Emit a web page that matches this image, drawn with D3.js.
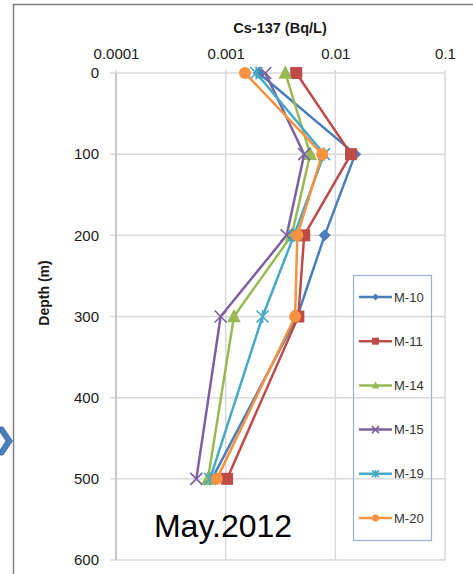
<!DOCTYPE html>
<html><head><meta charset="utf-8">
<script src="https://cdn.jsdelivr.net/npm/d3@7"></script>
<style>body{margin:0;background:#fff}svg{display:block}</style>
</head><body>
<script>
const depths = [0, 100, 200, 300, 500];
const seriesNames = ["M-10", "M-11", "M-14", "M-15", "M-19", "M-20"];
const m10 = [0.0020, 0.0152, 0.0080, 0.0045, 0.00075];
const m11 = [0.0044, 0.0139, 0.0052, 0.0046, 0.00103];
const m14 = [0.0035, 0.0059, 0.0040, 0.00119, 0.00069];
const m15 = [0.0023, 0.0052, 0.0036, 0.00090, 0.00054];
const m19 = [0.0019, 0.0079, 0.0042, 0.00217, 0.00072];
const m20 = [0.0015, 0.0076, 0.0045, 0.00430, 0.00083];
const xTicks = [0.0001, 0.001, 0.01, 0.1];
const xTickLabels = ["0.0001", "0.001", "0.01", "0.1"];
const yTicks = [0, 100, 200, 300, 400, 500, 600];
const colors = ["#4A7EBB", "#BE4B48", "#98B954", "#7D60A0", "#46AAC5", "#F69240"];
const markers = ["diamond", "square", "triangle", "x", "star", "circle"];
const allValues = [m10, m11, m14, m15, m19, m20];

const W = 473, H = 574;
const svg = d3.select("body").append("svg").attr("width", W).attr("height", H);
const font = "'Liberation Sans', Arial, sans-serif";

const x = d3.scaleLog().domain([0.0001, 0.1]).range([116, 445]);
const y = d3.scaleLinear().domain([0, 600]).range([73, 560]);

// outer frame (top & left)
svg.append("line").attr("x1", 13.5).attr("x2", 13.5).attr("y1", 4).attr("y2", H).attr("stroke", "#7f7f7f").attr("stroke-width", 1.5);
svg.append("line").attr("x1", 13).attr("x2", W).attr("y1", 4.5).attr("y2", 4.5).attr("stroke", "#7f7f7f").attr("stroke-width", 1.5);

// blue chevron
svg.append("path").attr("d", "M0,427 L3,427 L12.5,441 L3,455 L0,455 L0,450 L6,441 L0,432 Z")
  .attr("fill", "#4A7EBB").attr("stroke", "#3A6AA5").attr("stroke-width", 0.8);

// gridlines
const g = svg.append("g");
g.selectAll(".vg").data(xTicks).enter().append("line")
  .attr("x1", d => x(d)).attr("x2", d => x(d)).attr("y1", y(0) - 3).attr("y2", y(600))
  .attr("stroke", "#d9d9d9").attr("stroke-width", 1.5);
g.selectAll(".hg").data(yTicks).enter().append("line")
  .attr("x1", x(0.0001) - 6).attr("x2", x(0.1)).attr("y1", d => y(d)).attr("y2", d => y(d))
  .attr("stroke", "#d9d9d9").attr("stroke-width", 1.5);
// y axis line
g.append("line").attr("x1", x(0.0001)).attr("x2", x(0.0001)).attr("y1", y(0)).attr("y2", y(600))
  .attr("stroke", "#bfbfbf").attr("stroke-width", 1.5);

// axes with d3
const xAxis = d3.axisTop(x).tickValues(xTicks).tickFormat((d, i) => xTickLabels[i]).tickSize(0).tickPadding(14);
const xa = svg.append("g").attr("transform", `translate(0,${y(0)})`).call(xAxis);
xa.select(".domain").remove();
xa.selectAll("text").attr("font-family", font).attr("font-size", 15).attr("fill", "#1a1a1a");

const yAxis = d3.axisLeft(y).tickValues(yTicks).tickFormat(d3.format("d")).tickSize(0).tickPadding(17);
const ya = svg.append("g").attr("transform", `translate(${x(0.0001)},0)`).call(yAxis);
ya.select(".domain").remove();
ya.selectAll("text").attr("font-family", font).attr("font-size", 15).attr("fill", "#1a1a1a");

// titles
svg.append("text").attr("x", 280).attr("y", 33).attr("text-anchor", "middle")
  .attr("font-family", font).attr("font-weight", "bold").attr("font-size", 14.5).attr("fill", "#1a1a1a")
  .text("Cs-137 (Bq/L)");
svg.append("text").attr("transform", "translate(49,293) rotate(-90)").attr("text-anchor", "middle")
  .attr("font-family", font).attr("font-weight", "bold").attr("font-size", 14).attr("fill", "#1a1a1a")
  .text("Depth (m)");

// marker drawing
function drawMarker(sel, type, color, s) {
  if (type === "diamond") {
    sel.append("path").attr("d", `M0,${-s}L${s},0L0,${s}L${-s},0Z`).attr("fill", color);
  } else if (type === "square") {
    sel.append("rect").attr("x", -s).attr("y", -s).attr("width", 2 * s).attr("height", 2 * s).attr("fill", color);
  } else if (type === "triangle") {
    sel.append("path").attr("d", `M0,${-s * 1.2}L${s * 1.05},${s * 0.9}L${-s * 1.05},${s * 0.9}Z`).attr("fill", color);
  } else if (type === "x") {
    sel.append("path").attr("d", `M${-s},${-s}L${s},${s}M${-s},${s}L${s},${-s}`).attr("stroke", color).attr("stroke-width", 1.6).attr("fill", "none");
  } else if (type === "star") {
    sel.append("path").attr("d", `M${-s},${-s}L${s},${s}M${-s},${s}L${s},${-s}M0,${-s * 1.1}L0,${s * 1.1}`).attr("stroke", color).attr("stroke-width", 1.6).attr("fill", "none");
  } else if (type === "circle") {
    sel.append("circle").attr("r", s).attr("fill", color);
  }
}

const line = d3.line().x(d => x(d.v)).y(d => y(d.depth));
const markerSize = [6, 6, 6.5, 6, 6, 6];

seriesNames.forEach((name, i) => {
  const pts = depths.map((dep, j) => ({ depth: dep, v: allValues[i][j] }));
  const sg = svg.append("g");
  sg.append("path").datum(pts).attr("d", line).attr("fill", "none")
    .attr("stroke", colors[i]).attr("stroke-width", 2.5).attr("stroke-linejoin", "round");
  sg.selectAll(".m").data(pts).enter().append("g")
    .attr("transform", d => `translate(${x(d.v)},${y(d.depth)})`)
    .each(function () { drawMarker(d3.select(this), markers[i], colors[i], markerSize[i]); });
});

// legend
const lg = svg.append("g");
lg.append("rect").attr("x", 353.5).attr("y", 275.5).attr("width", 78).attr("height", 265)
  .attr("fill", "none").attr("stroke", "#95B3D7").attr("stroke-width", 1.2);
seriesNames.forEach((name, i) => {
  const yy = 297 + i * 44.2;
  const e = lg.append("g").attr("transform", `translate(0,${yy})`);
  e.append("line").attr("x1", 359).attr("x2", 392).attr("y1", 0).attr("y2", 0)
    .attr("stroke", colors[i]).attr("stroke-width", 2.5);
  const mk = e.append("g").attr("transform", "translate(375.5,0)");
  drawMarker(mk, markers[i], colors[i], 3.5);
  e.append("text").attr("x", 394).attr("y", 0).attr("dy", "0.35em")
    .attr("font-family", font).attr("font-size", 13).attr("fill", "#333").text(name);
});

// annotation
svg.append("text").attr("x", 223).attr("y", 537).attr("text-anchor", "middle")
  .attr("font-family", font).attr("font-size", 32).attr("fill", "#000").text("May.2012");
</script>
</body></html>
